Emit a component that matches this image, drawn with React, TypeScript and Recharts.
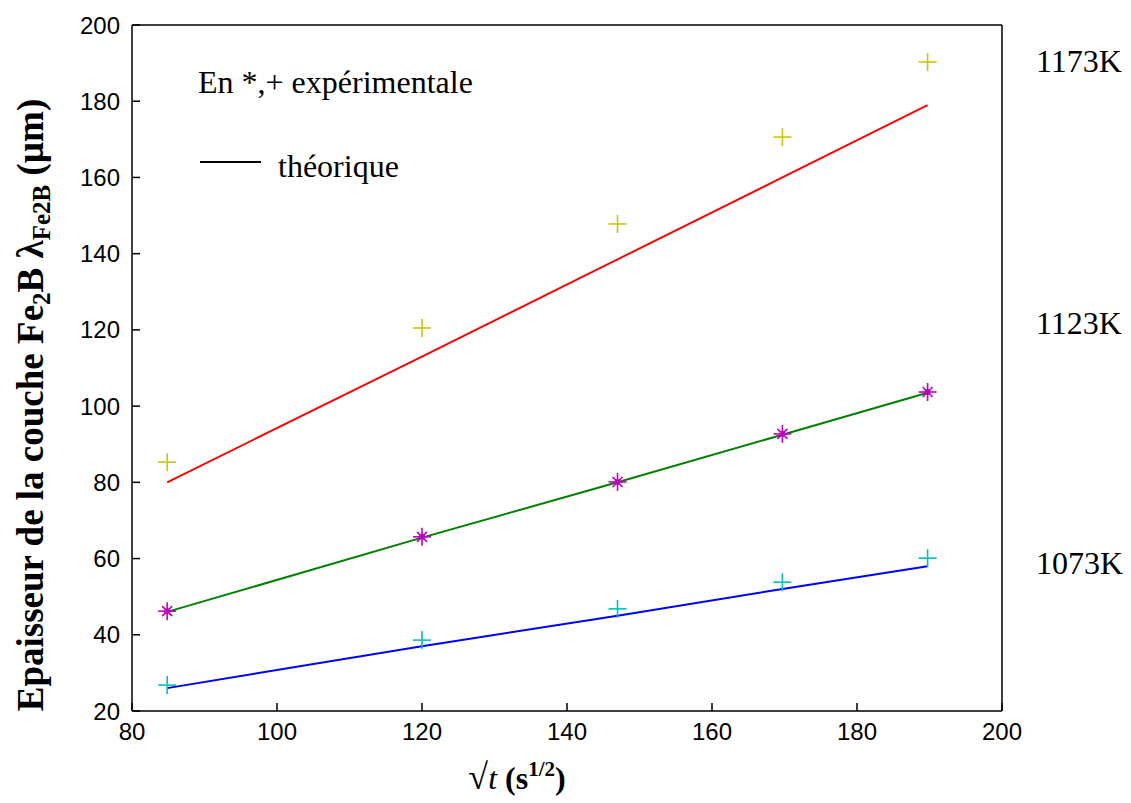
import {
  ComposedChart,
  Line,
  Scatter,
  XAxis,
  YAxis,
} from "recharts";

// racine du temps de traitement (s^1/2)
const sqrtT = [84.85, 120, 146.97, 169.71, 189.74];

// mesures expérimentales (µm)
const exp1173 = [85.3, 120.5, 147.8, 170.6, 190.3];
const exp1123 = [46.2, 65.7, 80.1, 92.7, 103.7];
const exp1073 = [26.8, 38.6, 46.8, 53.8, 60.1];

// courbes théoriques (µm)
const theo1173 = [80, 113, 138.5, 160, 179];
const theo1123 = [46, 65.5, 80, 92.5, 103.5];
const theo1073 = [26, 37, 45, 52, 58];

const xTicks = [80, 100, 120, 140, 160, 180, 200];
const yTicks = [20, 40, 60, 80, 100, 120, 140, 160, 180, 200];

const temperatures = ["1173K", "1123K", "1073K"];

const toPoints = (ys: number[]) => sqrtT.map((x, i) => ({ x, y: ys[i] }));

const tickFont = { fontFamily: "Liberation Sans, Arial", fontSize: 24, fill: "#000" };
const serif = "Liberation Serif, Times New Roman, serif";

function Plus(color: string) {
  return (props: any) => {
    const { cx, cy } = props;
    return (
      <g stroke={color} strokeWidth={1.6}>
        <line x1={cx - 9} y1={cy} x2={cx + 9} y2={cy} />
        <line x1={cx} y1={cy - 9} x2={cx} y2={cy + 9} />
      </g>
    );
  };
}

function Star(color: string) {
  return (props: any) => {
    const { cx, cy } = props;
    return (
      <g stroke={color} strokeWidth={1.6}>
        <line x1={cx - 9} y1={cy} x2={cx + 9} y2={cy} />
        <line x1={cx} y1={cy - 9} x2={cx} y2={cy + 9} />
        <line x1={cx - 5} y1={cy - 5} x2={cx + 5} y2={cy + 5} />
        <line x1={cx - 5} y1={cy + 5} x2={cx + 5} y2={cy - 5} />
        <circle cx={cx} cy={cy} r={3} fill={color} stroke="none" />
      </g>
    );
  };
}

export default function App() {
  return (
    <div
      style={{
        position: "relative",
        width: 1131,
        height: 803,
        marginLeft: -8,
        marginTop: -8,
        background: "#fff",
      }}
    >
      <ComposedChart
        width={1131}
        height={803}
        margin={{ top: 0, right: 0, left: 0, bottom: 0 }}
      >
        <XAxis
          xAxisId="b"
          type="number"
          dataKey="x"
          domain={[80, 200]}
          ticks={xTicks}
          height={92}
          tickSize={-8}
          tickMargin={20}
          tick={tickFont}
          axisLine={{ stroke: "#000", strokeWidth: 1.5 }}
          tickLine={{ stroke: "#000", strokeWidth: 1.5 }}
          label={() => (
            <text
              x={517}
              y={789}
              textAnchor="middle"
              fontFamily={serif}
              fontSize={32}
              fill="#000"
            >
              <tspan fontSize={36}>√</tspan>
              <tspan fontStyle="italic">t</tspan>
              <tspan fontWeight="bold"> (s</tspan>
              <tspan fontWeight="bold" fontSize={21} dy={-13}>1/2</tspan>
              <tspan fontWeight="bold" dy={13}>)</tspan>
            </text>
          )}
        />
        <XAxis
          xAxisId="t"
          orientation="top"
          type="number"
          dataKey="x"
          domain={[80, 200]}
          ticks={xTicks}
          height={25}
          tickSize={-8}
          tick={false}
          axisLine={{ stroke: "#000", strokeWidth: 1.5 }}
          tickLine={{ stroke: "#000", strokeWidth: 1.5 }}
        />
        <YAxis
          yAxisId="l"
          type="number"
          dataKey="y"
          domain={[20, 200]}
          ticks={yTicks}
          width={132}
          tickSize={-8}
          tickMargin={20}
          tick={tickFont}
          axisLine={{ stroke: "#000", strokeWidth: 1.5 }}
          tickLine={{ stroke: "#000", strokeWidth: 1.5 }}
          label={() => (
            <text
              x={0}
              y={0}
              transform="translate(43,405) rotate(-90)"
              textAnchor="middle"
              fontFamily={serif}
              fontWeight="bold"
              fontSize={37}
              fill="#000"
            >
              <tspan>Epaisseur de la couche Fe</tspan>
              <tspan fontSize={25} dy={7}>2</tspan>
              <tspan dy={-7}>B λ</tspan>
              <tspan fontSize={25} dy={7}>Fe2B</tspan>
              <tspan dy={-7}> (µm)</tspan>
            </text>
          )}
        />
        <YAxis
          yAxisId="r"
          orientation="right"
          type="number"
          dataKey="y"
          domain={[20, 200]}
          ticks={yTicks}
          width={129}
          tickSize={-8}
          tick={false}
          axisLine={{ stroke: "#000", strokeWidth: 1.5 }}
          tickLine={{ stroke: "#000", strokeWidth: 1.5 }}
        />

        <Line
          xAxisId="b"
          yAxisId="l"
          data={toPoints(theo1173)}
          dataKey="y"
          type="linear"
          stroke="#ff0000"
          strokeWidth={2}
          dot={false}
          isAnimationActive={false}
        />
        <Line
          xAxisId="b"
          yAxisId="l"
          data={toPoints(theo1123)}
          dataKey="y"
          type="linear"
          stroke="#008000"
          strokeWidth={2}
          dot={false}
          isAnimationActive={false}
        />
        <Line
          xAxisId="b"
          yAxisId="l"
          data={toPoints(theo1073)}
          dataKey="y"
          type="linear"
          stroke="#0000ff"
          strokeWidth={2}
          dot={false}
          isAnimationActive={false}
        />

        <Scatter
          xAxisId="b"
          yAxisId="l"
          data={toPoints(exp1173)}
          dataKey="y"
          shape={Plus("#c8c800")}
          isAnimationActive={false}
        />
        <Scatter
          xAxisId="b"
          yAxisId="l"
          data={toPoints(exp1123)}
          dataKey="y"
          shape={Star("#c000c0")}
          isAnimationActive={false}
        />
        <Scatter
          xAxisId="b"
          yAxisId="l"
          data={toPoints(exp1073)}
          dataKey="y"
          shape={Plus("#00c0c0")}
          isAnimationActive={false}
        />
      </ComposedChart>

      {/* légende et températures */}
      <svg
        width={1131}
        height={803}
        style={{ position: "absolute", left: 0, top: 0, pointerEvents: "none" }}
      >
        <g fontFamily={serif} fontSize={32} fill="#000">
          <text x={198} y={93}>En *,+ expérimentale</text>
          <line x1={200} y1={162} x2={261} y2={162} stroke="#000" strokeWidth={2} />
          <text x={278} y={177}>théorique</text>
        </g>
        <g fontFamily={serif} fontSize={32} fill="#000">
          <text x={1036} y={72}>{temperatures[0]}</text>
          <text x={1036} y={334}>{temperatures[1]}</text>
          <text x={1036} y={574}>{temperatures[2]}</text>
        </g>
      </svg>
    </div>
  );
}
